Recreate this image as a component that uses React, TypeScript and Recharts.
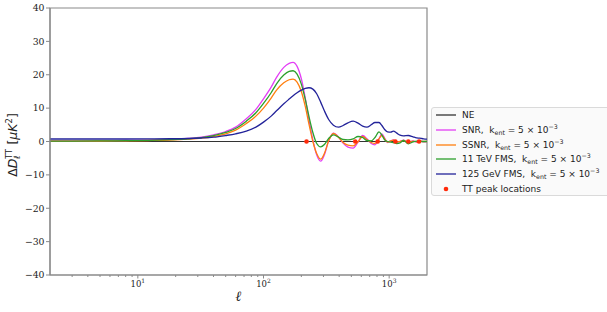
import React from "react"
import {
  ComposedChart,
  Line,
  Scatter,
  XAxis,
  YAxis,
  ReferenceArea,
} from "recharts"

// multipole grid shared by all the curves
const ells = [
  2, 3, 5, 8, 12, 18, 25, 32, 40, 50,
  60, 73, 87, 100, 115, 127, 145, 160, 172, 185,
  200, 215, 230, 247, 265, 285, 305, 330, 360, 395,
  430, 470, 517, 565, 615, 665, 720, 771, 830, 875,
  920, 970, 1030, 1080, 1150, 1220, 1300, 1420, 1550, 1650,
  1760, 1880, 2000,
]

const snr = [
  0.15, 0.15, 0.2, 0.3, 0.4, 0.6, 0.9, 1.3, 2.0, 3.0,
  4.3, 6.8, 9.6, 12.8, 16.3, 19.2, 22.2, 23.4, 23.7, 22.5,
  18.8, 13, 6.5, 0.5, -4.0, -5.9, -4.0, 0.2, 2.5, 1.4,
  -0.5, -1.7, -2.0, -0.2, 1.8, 0.8, -0.6, -1.0, 0.8, 2.3,
  1.0, -0.3, 0.2, 0.5, -0.2, 0, 0.4, -0.3, 0.2, -0.2,
  0.2, -0.1, 0,
]

const ssnr = [
  0.1, 0.1, 0.15, 0.2, 0.3, 0.45, 0.7, 1.0, 1.5, 2.3,
  3.4, 5.4, 7.6, 10.0, 13.0, 15.4, 17.6, 18.5, 18.7, 17.8,
  15.0, 10.5, 5.2, 0.0, -3.6, -5.3, -3.6, 0.2, 2.4, 1.3,
  -0.3, -1.1, -1.3, -0.1, 1.5, 0.6, -0.3, -0.6, 0.8, 1.8,
  0.8, -0.2, 0.2, 0.4, -0.2, 0, 0.3, -0.2, 0.1, -0.1,
  0.1, 0, 0,
]

const fms11 = [
  0.12, 0.12, 0.17, 0.25, 0.35, 0.55, 0.8, 1.15, 1.75, 2.7,
  3.9, 6.1, 8.6, 11.4, 14.6, 17.3, 19.9, 21.0, 21.2, 20.2,
  17.2, 12.6, 7.5, 2.7, -0.6, -1.6, -0.9, 0.9, 2.0, 1.3,
  0.6, 0.5, 0.8, 1.5, 1.2, 0.3, 0.2, 1.2, 2.9, 1.9,
  0.5, 0, -0.2, -0.3, -0.6, -0.4, 0.3, -0.7, -0.1, 0.1,
  0, 0, 0,
]

const fms125 = [
  0.75, 0.75, 0.75, 0.75, 0.78, 0.82, 0.9, 1.05, 1.3, 1.8,
  2.3, 3.1, 4.3, 5.8, 7.6, 9.2, 11.3, 12.7, 13.7, 14.6,
  15.4, 15.9, 16.1, 15.7, 14.3, 11.8, 9.2, 6.6, 4.9, 4.3,
  4.8, 5.6, 6.1, 5.5, 4.6, 4.3, 5.0, 5.7, 5.7, 4.8,
  3.6, 2.9, 2.8, 3.1, 2.5, 1.9, 1.7, 1.8, 1.4, 1.1,
  1.0, 0.8, 0.7,
]

// NE reference: flat line at zero
const neElls = [2, 2000]
const neValues = [0, 0]

// TT peak locations, drawn on the zero line
const peakElls = [220, 537, 810, 1120, 1420, 1730]
const peakValues = [0, 0, 0, 0, 0, 0]

const yTicks = [-40, -30, -20, -10, 0, 10, 20, 30, 40]
const majorTicks = [10, 100, 1000]
const minorTicks = [3, 4, 5, 6, 7, 8, 9, 20, 30, 40, 50, 60, 70, 80, 90, 200, 300, 400, 500, 600, 700, 800, 900]

const rows = ells.map((ell, i) => ({
  ell,
  snr: snr[i],
  ssnr: ssnr[i],
  fms11: fms11[i],
  fms125: fms125[i],
}))
const neRows = neElls.map((ell, i) => ({ ell, ne: neValues[i] }))
const peakRows = peakElls.map((ell, i) => ({ ell, peak: peakValues[i] }))

const axisColor = "#8a8a8a"
const serif = "'DejaVu Serif', serif"
const sans = "'DejaVu Sans', sans-serif"

const XTick = (props: any) => {
  const { x, y, payload } = props
  const v = payload.value
  const major = majorTicks.includes(v)
  return (
    <g>
      <line x1={x} x2={x} y1={y} y2={y + (major ? 3.5 : 2)} stroke={axisColor} strokeWidth={1} />
      {major && (
        <text x={x} y={y + 12} textAnchor="middle" fontFamily={serif} fontSize={8.5} fill="#222">
          10
          <tspan dy={-4} fontSize={6}>{Math.round(Math.log10(v))}</tspan>
        </text>
      )}
    </g>
  )
}

const YLabel = () => (
  <text
    transform="translate(17,145) rotate(-90)"
    textAnchor="middle"
    fontFamily={sans}
    fontSize={12.5}
    fill="#222"
  >
    Δ<tspan fontStyle="italic">D</tspan>
    <tspan dy={-5} fontSize={8}>TT</tspan>
    <tspan dx={-10} dy={8} fontSize={8.5} fontStyle="italic">ℓ</tspan>
    <tspan dx={7} dy={-3}>{"  ["}</tspan>
    <tspan fontStyle="italic">μK</tspan>
    <tspan dy={-5} fontSize={8.5}>2</tspan>
    <tspan dy={5}>]</tspan>
  </text>
)

const legendItems = [
  { label: "NE", color: "#333333", k: false },
  { label: "SNR,", color: "#e33ef5", k: true },
  { label: "SSNR,", color: "#ff7f0e", k: true },
  { label: "11 TeV FMS,", color: "#2ca02c", k: true },
  { label: "125 GeV FMS,", color: "#23239a", k: true },
]

const KEnt = () => (
  <span>
    {"  "}k<span style={{ fontSize: "70%", position: "relative", top: 2 }}>ent</span> = 5 × 10
    <span style={{ fontSize: "70%", position: "relative", top: -4 }}>−3</span>
  </span>
)

const LegendBox = () => (
  <div
    style={{
      position: "absolute",
      left: 431,
      top: 107,
      width: 182,
      height: 89,
      boxSizing: "border-box",
      background: "#fafafa",
      border: "1px solid #dadada",
      borderRadius: 3,
      fontFamily: sans,
      fontSize: 9,
      color: "#222",
    }}
  >
    {legendItems.map((it) => (
      <div key={it.label} style={{ height: 14.7, display: "flex", alignItems: "center", whiteSpace: "pre" }}>
        <svg width={20} height={4} style={{ marginLeft: 4, marginRight: 6 }}>
          <line x1={0} x2={20} y1={2} y2={2} stroke={it.color} strokeWidth={1.3} />
        </svg>
        <span>
          {it.label}
          {it.k && <KEnt />}
        </span>
      </div>
    ))}
    <div style={{ height: 14.7, display: "flex", alignItems: "center", whiteSpace: "nowrap" }}>
      <svg width={20} height={6} style={{ marginLeft: 4, marginRight: 6 }}>
        <circle cx={10} cy={3} r={2.3} fill="#ff2a0a" />
      </svg>
      <span>TT peak locations</span>
    </div>
  </div>
)

export default function App() {
  return (
    <div
      style={{
        position: "absolute",
        left: 0,
        top: 0,
        width: 607,
        height: 312,
        overflow: "hidden",
        background: "#fff",
      }}
    >
      <ComposedChart width={607} height={312} data={rows} margin={{ top: 8, right: 180, bottom: 0, left: 0 }}>
        <XAxis
          dataKey="ell"
          type="number"
          scale="log"
          domain={[2, 2000]}
          allowDataOverflow
          ticks={[...minorTicks, ...majorTicks]}
          interval={0}
          tick={<XTick />}
          tickLine={false}
          tickSize={0}
          tickMargin={0}
          axisLine={{ stroke: axisColor, strokeWidth: 1.2 }}
          height={37}
          label={(p: any) => {
            const vb = p.viewBox || { x: 50, width: 377, y: 275 }
            return (
              <text
                x={vb.x + vb.width / 2}
                y={vb.y + 26}
                textAnchor="middle"
                fontFamily={serif}
                fontStyle="italic"
                fontSize={14}
                fill="#222"
              >
                ℓ
              </text>
            )
          }}
        />
        <YAxis
          type="number"
          domain={[-40, 40]}
          ticks={yTicks}
          interval={0}
          width={50}
          tickSize={4}
          tickMargin={1.5}
          tickLine={{ stroke: axisColor }}
          axisLine={{ stroke: axisColor, strokeWidth: 1.2 }}
          tickFormatter={(v: number) => String(v).replace("-", "−")}
          tick={{ fontFamily: serif, fontSize: 9.3, fill: "#222" }}
        />
        <ReferenceArea x1={2} x2={2000} y1={-40} y2={40} fill="none" stroke={axisColor} strokeWidth={1.2} />
        <Line
          data={neRows}
          dataKey="ne"
          type="linear"
          stroke="#333333"
          strokeWidth={1.2}
          dot={false}
          isAnimationActive={false}
        />
        <Line dataKey="snr" type="monotone" stroke="#e33ef5" strokeWidth={1.3} dot={false} isAnimationActive={false} />
        <Line dataKey="ssnr" type="monotone" stroke="#ff7f0e" strokeWidth={1.3} dot={false} isAnimationActive={false} />
        <Line dataKey="fms11" type="monotone" stroke="#2ca02c" strokeWidth={1.3} dot={false} isAnimationActive={false} />
        <Line dataKey="fms125" type="monotone" stroke="#23239a" strokeWidth={1.3} dot={false} isAnimationActive={false} />
        <Scatter
          data={peakRows}
          dataKey="peak"
          fill="#ff2a0a"
          isAnimationActive={false}
          shape={(p: any) => <circle cx={p.cx} cy={p.cy} r={2.3} fill="#ff2a0a" />}
        />
        <YLabel />
      </ComposedChart>
      <LegendBox />
    </div>
  )
}
